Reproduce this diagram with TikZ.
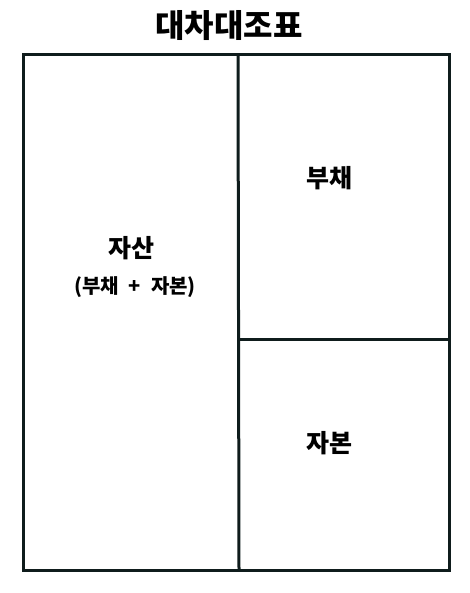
\documentclass[tikz,border=0pt]{standalone}
\usepackage{fontspec}
\setmainfont{Noto Sans CJK KR}[BoldFont={Noto Sans CJK KR Black}]
\definecolor{lineclr}{HTML}{0F1C1C}
\begin{document}
\begin{tikzpicture}[x=1pt,y=-1pt,
  frame/.style={draw=lineclr,line width=3pt},
  lbl/.style={font=\bfseries\fontsize{25}{27}\selectfont,inner sep=0pt},
  sub/.style={font=\bfseries\fontsize{20}{22}\selectfont,inner sep=0pt},
  ttl/.style={font=\bfseries\fontsize{32}{34}\selectfont,inner sep=0pt}]
\useasboundingbox (0,0) rectangle (470,593);
\coordinate (tl) at (23,55);
\coordinate (tr) at (449,55);
\coordinate (bl) at (23,570);
\coordinate (br) at (449,570);
\coordinate (mt) at (238,55);
\coordinate (mb) at (239,570);
\coordinate (ml) at (239,339);
\coordinate (mr) at (449,339);
\draw[frame] (tl) -- (tr) -- (br) -- (bl) -- cycle;
\draw[frame] (mt) -- (mb);
\draw[frame] (ml) -- (mr);
\node[ttl] (title) at (229,26) {대차대조표};
\node[lbl] (asset) at (131,248) {자산};
\node[sub] (assetsub) at (135,287) {(부채\hspace{10pt}+\hspace{10pt}자본)};
\node[lbl] (debt) at (329,178) {부채};
\node[lbl] (equity) at (329,443) {자본};
\end{tikzpicture}
\end{document}
